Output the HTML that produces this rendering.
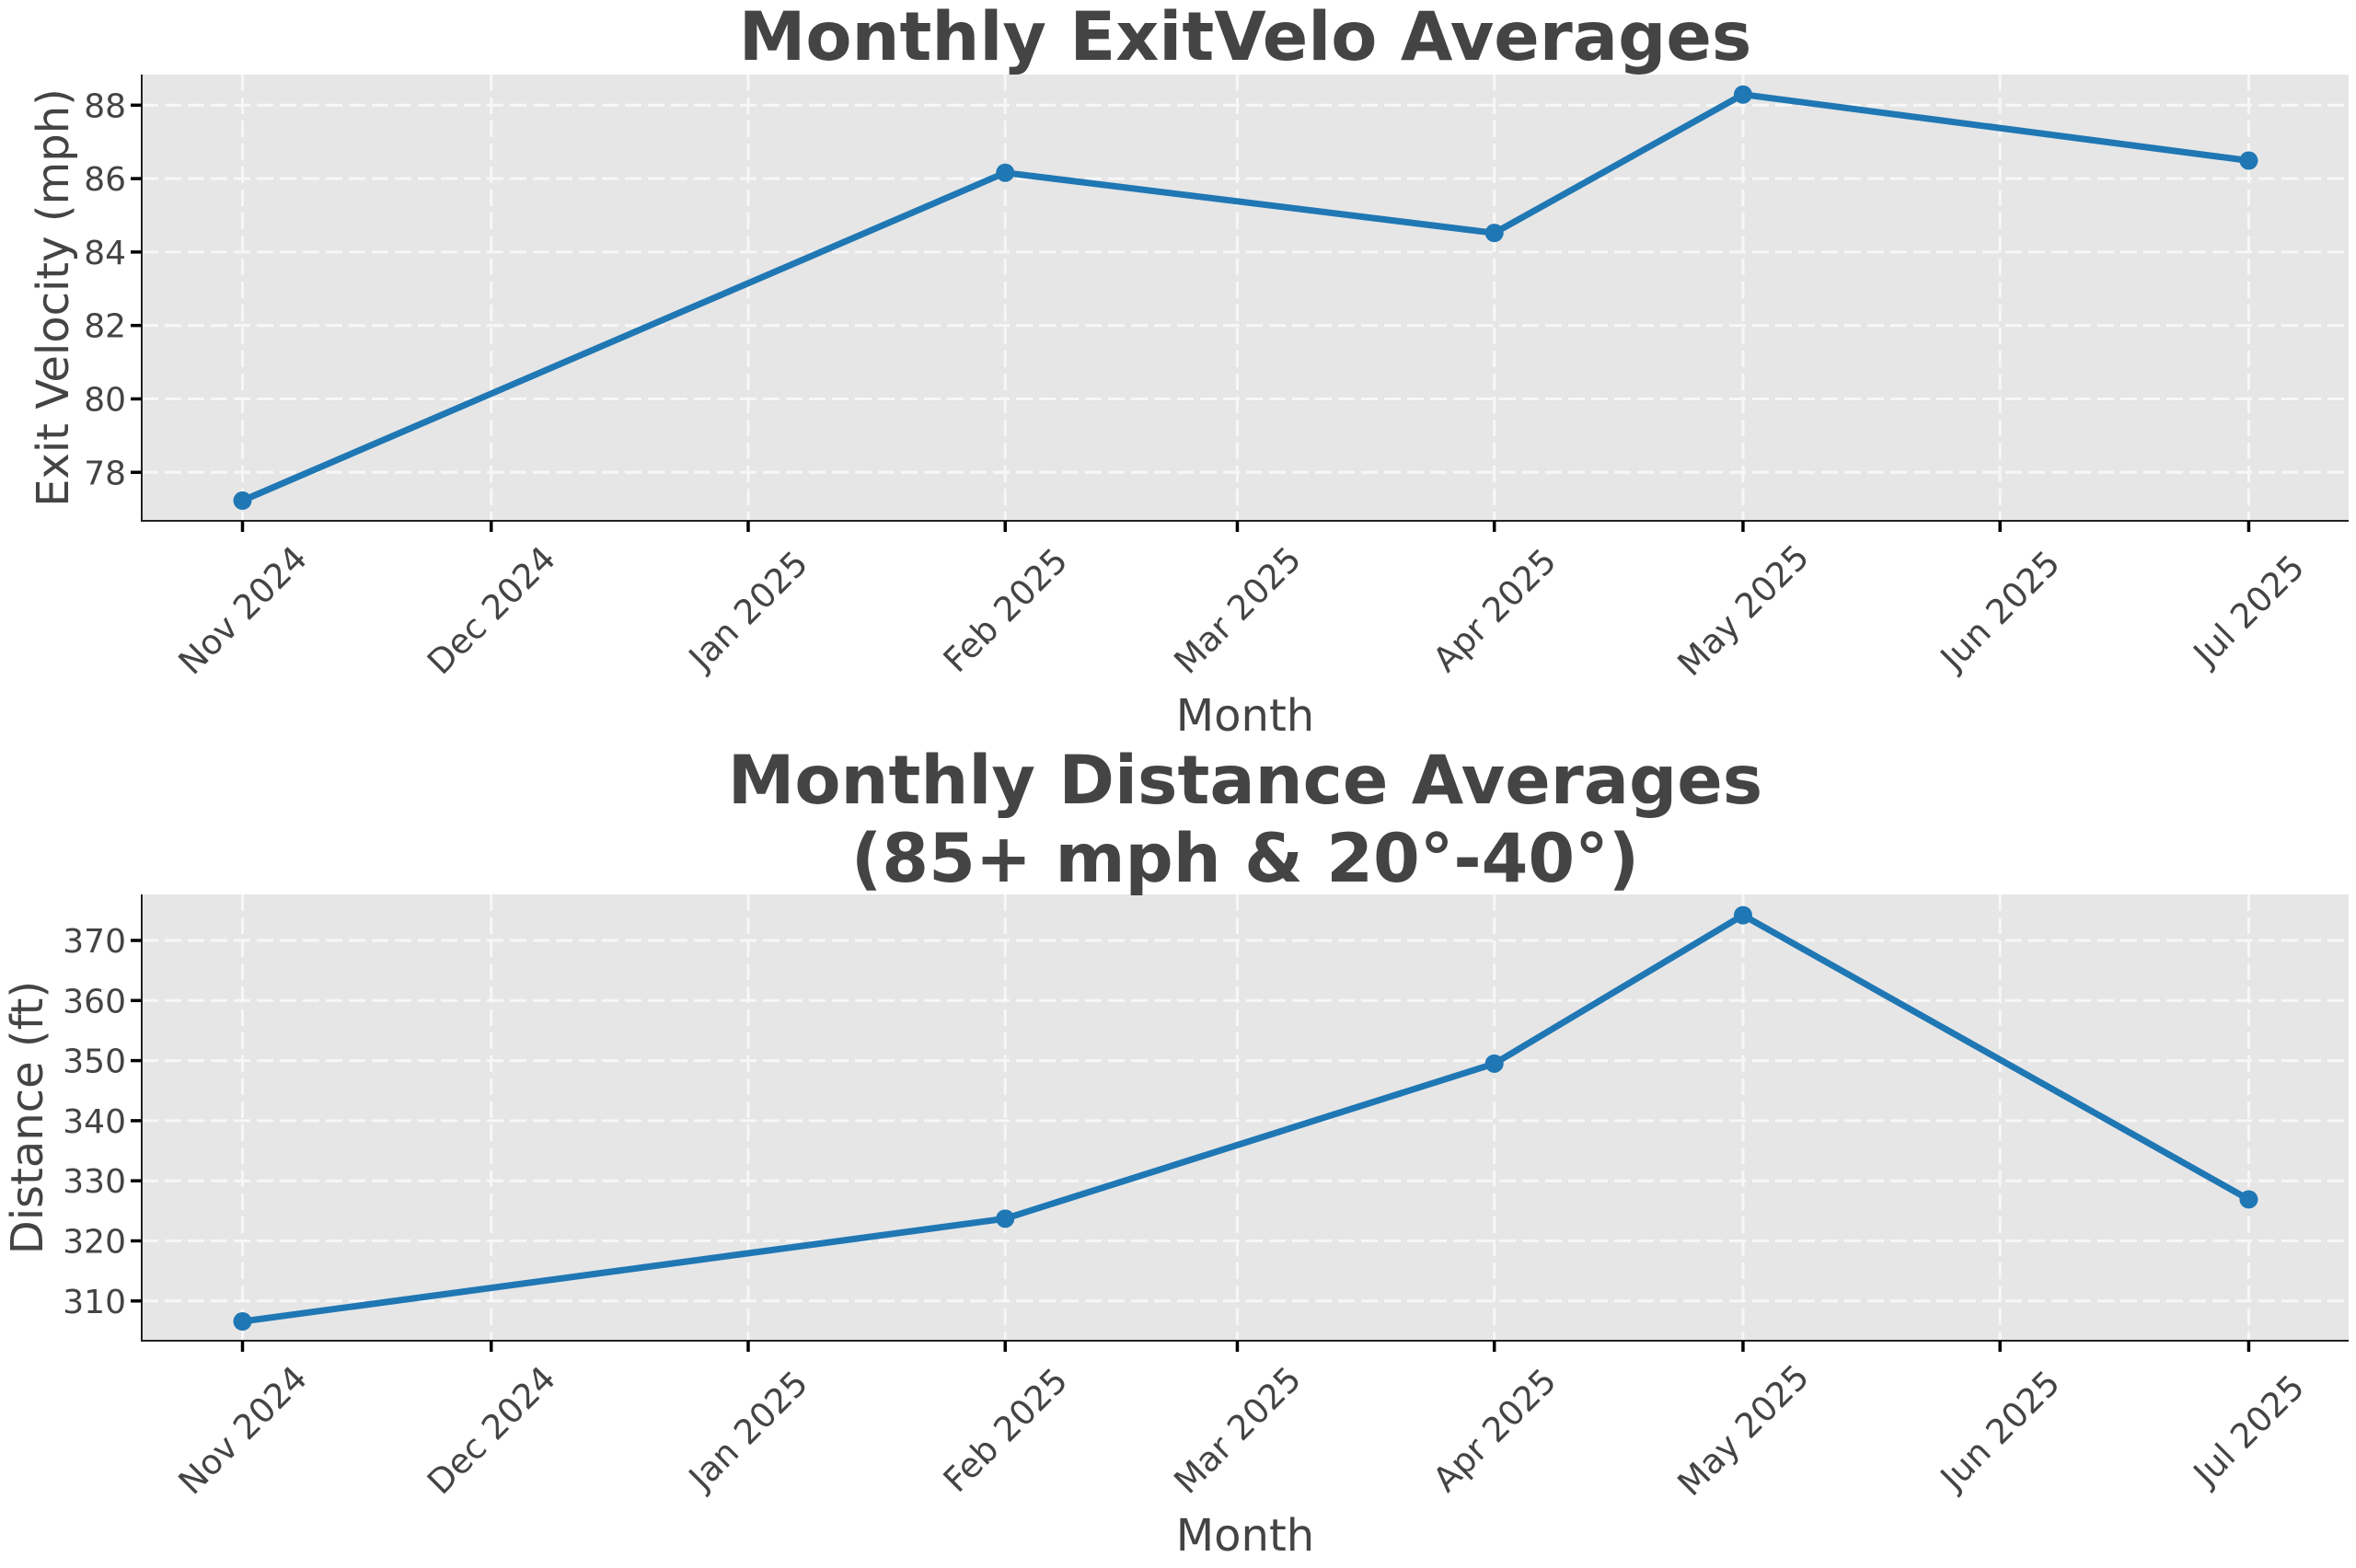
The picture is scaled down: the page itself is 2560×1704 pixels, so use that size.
<!DOCTYPE html>
<html><head><meta charset="utf-8"><style>
html,body{margin:0;padding:0;background:#fff;}
svg{display:block;font-family:"DejaVu Sans","Liberation Sans",sans-serif;}
</style></head><body>
<svg id="chart" width="2560" height="1704" viewBox="0 0 2560 1704" xmlns="http://www.w3.org/2000/svg"></svg>
<script>
const monthTicks = ["Nov 2024","Dec 2024","Jan 2025","Feb 2025","Mar 2025","Apr 2025","May 2025","Jun 2025","Jul 2025"];
const tickDays = [0,30,61,92,120,151,181,212,242];
const pointDays = [0,92,151,181,242];
const exitVelo = [77.23,86.16,84.52,88.29,86.49];
const distance = [306.6,323.7,349.5,374.2,326.9];
const veloTicks = [78,80,82,84,86,88];
const distTicks = [310,320,330,340,350,360,370];

const svg = document.getElementById('chart');
const NS = 'http://www.w3.org/2000/svg';
function mk(tag, attrs, parent){
  const e = document.createElementNS(NS, tag);
  for (const k in attrs) e.setAttribute(k, attrs[k]);
  (parent||svg).appendChild(e);
  return e;
}
const X0 = 154, X1 = 2552;
function xScale(d){ return 263.5 + d * 9.008; }

function panel(cfg){
  const g = mk('g', {});
  
  
  const y = v => cfg.yRef + (cfg.vRef - v) * cfg.ppu;
  const bg = mk('rect', {x:X0, y:cfg.top, width:X1-X0, height:cfg.bottom-cfg.top, fill:'#e6e6e6'}, g);
  
  
  cfg.ticks.forEach(t => {
    const l = mk('line', {x1:X0, x2:X1, y1:y(t), y2:y(t), stroke:'#f7f7f7', 'stroke-width':3, 'stroke-dasharray':'18 7'}, g);
    
    
  });
  tickDays.forEach(d => {
    const l = mk('line', {x1:xScale(d), x2:xScale(d), y1:cfg.top, y2:cfg.bottom, stroke:'#f7f7f7', 'stroke-width':3, 'stroke-dasharray':'18 7'}, g);
    
    
  });
  const sl = mk('line', {x1:X0, x2:X0, y1:cfg.top, y2:cfg.bottom+1, stroke:'#222', 'stroke-width':2}, g);
  
  
  const sb = mk('line', {x1:X0-1, x2:X1, y1:cfg.bottom, y2:cfg.bottom, stroke:'#222', 'stroke-width':2}, g);
  
  
  cfg.ticks.forEach(t => {
    const tm = mk('line', {x1:X0-12, x2:X0, y1:y(t), y2:y(t), stroke:'#000', 'stroke-width':3.5}, g);
    
    
    const tx = mk('text', {x:X0-17, y:y(t)+13, 'text-anchor':'end', 'font-size':36, fill:'#444'}, g);
    tx.textContent = t;
    
    
  });
  tickDays.forEach((d,i) => {
    const xx = xScale(d);
    const tm = mk('line', {x1:xx, x2:xx, y1:cfg.bottom, y2:cfg.bottom+12, stroke:'#000', 'stroke-width':3.5}, g);
    
    
    const cy = cfg.bottom + 97;
    const tx = mk('text', {x:xx, y:cy+13, 'text-anchor':'middle', 'font-size':37, fill:'#444', transform:`rotate(-45 ${xx} ${cy})`}, g);
    tx.textContent = monthTicks[i];
    
    
  });
  const pts = pointDays.map((d,i) => xScale(d).toFixed(1)+','+y(cfg.values[i]).toFixed(1)).join(' ');
  const pl = mk('polyline', {points:pts, fill:'none', stroke:'#1f77b4', 'stroke-width':7, 'stroke-linejoin':'round'}, g);
  
  
  pointDays.forEach((d,i) => {
    const c = mk('circle', {cx:xScale(d), cy:y(cfg.values[i]), r:10, fill:'#1f77b4'}, g);
    
    
  });
  const xl = mk('text', {x:(X0+X1)/2, y:cfg.bottom+228, 'text-anchor':'middle', 'font-size':48, fill:'#444'}, g);
  xl.textContent = 'Month';
  
  
  const yc = (cfg.top+cfg.bottom)/2;
  const yl = mk('text', {x:cfg.ylx, y:yc, 'text-anchor':'middle', 'font-size':48, fill:'#444', transform:`rotate(-90 ${cfg.ylx} ${yc})`, 'dominant-baseline':'central'}, g);
  yl.textContent = cfg.ylabel;
  
  
  cfg.title.forEach((line, i) => {
    const t = mk('text', {x:(X0+X1)/2, y:cfg.titleY + i*85, 'text-anchor':'middle', 'font-size':73, 'font-weight':'bold', fill:'#444'}, g);
    t.textContent = line;
    
    
  });
}

panel({name:'exit-velocity-panel', seriesName:'exit-velocity-line', top:81, bottom:566, yRef:114.3, vRef:88, ppu:39.9,
  ticks:veloTicks, values:exitVelo, ylabel:'Exit Velocity (mph)', ylx:58, title:['Monthly ExitVelo Averages'], titleY:65});
panel({name:'distance-panel', seriesName:'distance-line', top:972, bottom:1457, yRef:1022, vRef:370, ppu:6.53,
  ticks:distTicks, values:distance, ylabel:'Distance (ft)', ylx:30, title:['Monthly Distance Averages','(85+ mph & 20°-40°)'], titleY:873});
</script>
</body></html>
